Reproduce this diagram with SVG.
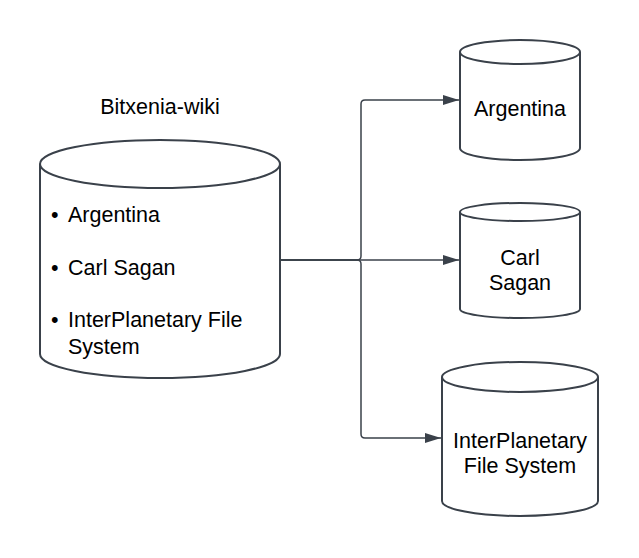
<svg xmlns="http://www.w3.org/2000/svg" width="639" height="558" viewBox="0 0 639 558">
<defs>
<style>
.cyl{fill:#ffffff;stroke:#3a414a;stroke-width:2;stroke-linejoin:round}
.t{font-family:"Liberation Sans",Arial,sans-serif;font-size:21.5px;fill:#000000}
.c{text-anchor:middle}
.e{fill:none;stroke:#3a414a;stroke-width:1.5}
</style>
<marker id="ah" viewBox="0 0 16 10" refX="16" refY="5" markerWidth="16" markerHeight="10" markerUnits="userSpaceOnUse" orient="auto">
<path d="M0 0 L16 5 L0 10 Z" fill="#3a414a"/>
</marker>
</defs>
<rect width="639" height="558" fill="#ffffff"/>
<g id="connectors">
<path class="e" d="M280 260 H357 Q361 260 361 256 V104 Q361 100 365 100 H459" marker-end="url(#ah)"/>
<path class="e" d="M280 260 H459" marker-end="url(#ah)"/>
<path class="e" d="M280 260 H357 Q361 260 361 264 V434 Q361 438 365 438 H441" marker-end="url(#ah)"/>
</g>
<g id="bitxenia-wiki">
<text class="t c" x="160" y="114">Bitxenia-wiki</text>
<path class="cyl" d="M40 164 V354 A120 24 0 0 0 280 354 V164 A120 24 0 0 0 40 164 Z"/>
<path class="cyl" fill="none" d="M40 164 A120 24 0 0 0 280 164"/>
<text class="t" x="51" y="222">•</text><text class="t" x="68" y="222">Argentina</text>
<text class="t" x="51" y="275">•</text><text class="t" x="68" y="275">Carl Sagan</text>
<text class="t" x="51" y="327">•</text><text class="t" x="68" y="327">InterPlanetary File</text>
<text class="t" x="68" y="354">System</text>
</g>
<g id="argentina">
<path class="cyl" d="M460 52 V148 A60 12 0 0 0 580 148 V52 A60 12 0 0 0 460 52 Z"/>
<path class="cyl" fill="none" d="M460 52 A60 12 0 0 0 580 52"/>
<text class="t c" x="520" y="116">Argentina</text>
</g>
<g id="carl-sagan">
<path class="cyl" d="M460 212 V309 A60 9 0 0 0 580 309 V212 A60 9 0 0 0 460 212 Z"/>
<path class="cyl" fill="none" d="M460 212 A60 9 0 0 0 580 212"/>
<text class="t c" x="520" y="265">Carl</text>
<text class="t c" x="520" y="290">Sagan</text>
</g>
<g id="ipfs">
<path class="cyl" d="M442 377 V501 A78 15 0 0 0 598 501 V377 A78 15 0 0 0 442 377 Z"/>
<path class="cyl" fill="none" d="M442 377 A78 15 0 0 0 598 377"/>
<text class="t c" x="520" y="448">InterPlanetary</text>
<text class="t c" x="520" y="473">File System</text>
</g>
</svg>
